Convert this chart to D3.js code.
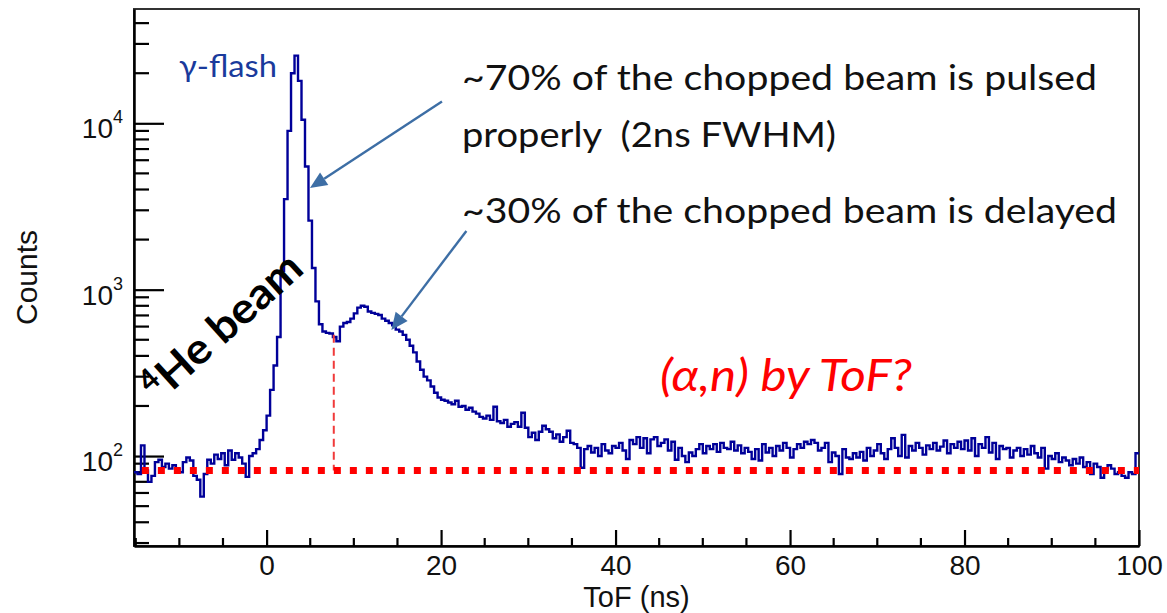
<!DOCTYPE html>
<html>
<head>
<meta charset="utf-8">
<script src="https://cdn.jsdelivr.net/npm/d3@7"></script>
<style>
  html, body { margin: 0; padding: 0; background: #ffffff; }
  svg { display: block; }
</style>
</head>
<body>
<svg id="chart" width="1167" height="613"></svg>
<script>
// ---------------- DATA ----------------
const binStart = -15.2;   // ns, lower edge of first bin
const binWidth = 0.4;     // ns
const counts = [
  80, 78, 116, 82, 70, 76, 92, 95, 86, 90,          // -15.2 .. -11.6
  84, 88, 83, 80, 92, 98, 94, 76, 72, 57,           // -11.2 .. -7.6
  78, 95, 90, 102, 96, 104, 88, 108, 95, 104,       // -7.2 .. -3.6
  98, 90, 75, 100, 104, 110, 125, 143, 175, 250,    // -3.2 .. 0.4
  350, 520, 1300, 3500, 9000, 20000, 25500, 18000, 10500, 5500, // 0.8 .. 4.4
  2600, 1350, 850, 620, 560, 550, 545, 520, 490, 600,           // 4.8 .. 8.4
  630, 640, 670, 720, 780, 800, 790, 740, 725, 715, // 8.8 .. 12.4
  705, 670, 650, 630, 610, 575, 560, 535, 500, 460, // 12.8 .. 16.4
  420, 370, 330, 300, 285, 262, 240, 225, 218, 215, // 16.8 .. 20.4
  210, 205, 215, 198, 200, 190, 195, 185, 180, 172, // 20.8 .. 24.4
  168, 175, 165, 198, 162, 158, 165, 150, 156, 160, // 24.8 .. 28.4
  150, 182, 148, 130, 138, 125, 140, 152, 145, 140, // 28.8 .. 32.4
  128, 135, 122, 130, 142, 120, 118, 112, 85, 110,  // 32.8 .. 36.4
  115, 105, 112, 100, 118, 108, 104, 115, 112, 120, // 36.8 .. 40.4
  108, 96, 125, 118, 130, 112, 128, 104, 126, 130,  // 40.8 .. 44.4
  115, 120, 126, 108, 122, 95, 112, 100, 92, 105,   // 44.8 .. 48.4
  100, 110, 118, 104, 115, 110, 118, 106, 120, 112, // 48.8 .. 52.4
  110, 122, 108, 116, 104, 112, 106, 96, 110, 94,   // 52.8 .. 56.4
  118, 105, 112, 100, 115, 108, 120, 112, 98, 110,  // 56.8 .. 60.4
  118, 112, 122, 118, 125, 120, 108, 112, 120, 92,  // 60.8 .. 64.4
  105, 100, 78, 110, 98, 96, 104, 98, 106, 94,      // 64.8 .. 68.4
  112, 100, 108, 118, 104, 96, 110, 128, 112, 100,  // 68.8 .. 72.4
  134, 98, 115, 108, 120, 112, 102, 116, 110, 120,  // 72.8 .. 76.4
  108, 114, 124, 104, 118, 112, 122, 110, 124, 108, // 76.8 .. 80.4
  128, 100, 118, 112, 130, 105, 120, 96, 115, 110,  // 80.8 .. 84.4
  112, 98, 108, 112, 100, 110, 102, 115, 104, 98,   // 84.8 .. 88.4
  112, 84, 100, 96, 104, 92, 98, 94, 88, 96,        // 88.8 .. 92.4
  90, 98, 86, 92, 78, 90, 86, 74, 82, 88,           // 92.8 .. 96.4
  84, 78, 80, 76, 74, 80, 78, 104                   // 96.8 .. 99.6
];

const xDomain = [-15.2, 100];
const yDomain = [28.8, 48640];
const xMajorTicks = [0, 20, 40, 60, 80, 100];
const xTickLabels = ["0", "20", "40", "60", "80", "100"];
const yMajorTicks = [100, 1000, 10000];
const yTickBase = ["10", "10", "10"];
const yTickExp = ["2", "3", "4"];

const baselineLevel = 82;     // red dotted background level (counts)
const cutTime = 7.7;          // ns, red dashed separator
const cutTop = 535;           // counts, top of red dashed separator

const xTitle = "ToF (ns)";
const yTitle = "Counts";
const flashLabel = "\u03B3-flash";
const noteLines = ["~70% of the chopped beam is pulsed", "properly  (2ns FWHM)", "~30% of the chopped beam is delayed"];
const questionText = "(\u03B1,n) by ToF?";
const beamSup = "4";
const beamText = "He beam";

// arrows: [from, to] in (ns, counts)
const arrowPulsed = [[20.1, 13500], [4.97, 4080]];
const arrowDelayed = [[22.9, 2255], [14.3, 573]];

// ---------------- LAYOUT ----------------
const svg = d3.select("#chart");
const plotL = 134, plotR = 1139, plotT = 9, plotB = 546;

svg.append("rect").attr("width", 1167).attr("height", 613).attr("fill", "#ffffff");

const x = d3.scaleLinear().domain(xDomain).range([plotL, plotR]);
const y = d3.scaleLog().domain(yDomain).range([plotB, plotT]);

svg.append("defs").append("clipPath").attr("id", "plotclip")
  .append("rect").attr("x", plotL).attr("y", plotT).attr("width", plotR - plotL).attr("height", plotB - plotT);

// frame
svg.append("rect")
  .attr("x", plotL).attr("y", plotT)
  .attr("width", plotR - plotL).attr("height", plotB - plotT)
  .attr("fill", "none").attr("stroke", "#333").attr("stroke-width", 2);

const axisFont = "'Liberation Sans', Arial, Helvetica, sans-serif";

// X axis (ticks pointing up into plot)
const xAxis = d3.axisBottom(x)
  .tickValues(xMajorTicks)
  .tickFormat((d, i) => xTickLabels[i])
  .tickSizeInner(-16).tickSizeOuter(0).tickPadding(8);
const gx = svg.append("g").attr("transform", `translate(0,${plotB})`).call(xAxis);
gx.select(".domain").attr("stroke", "#000").attr("stroke-width", 2.5);
gx.selectAll(".tick line").attr("stroke", "#000").attr("stroke-width", 2.2);
gx.selectAll(".tick text").attr("font-family", axisFont).attr("font-size", 28).attr("fill", "#111").attr("dy", "0.76em");

const xMinor = d3.range(-15, 101, 5).filter(v => v > xDomain[0] && v < xDomain[1] && !xMajorTicks.includes(v));
svg.append("g").selectAll("line").data(xMinor).join("line")
  .attr("x1", d => x(d)).attr("x2", d => x(d))
  .attr("y1", plotB).attr("y2", plotB - 8)
  .attr("stroke", "#000").attr("stroke-width", 2.2);

// Y axis (ticks pointing right into plot)
const yAxis = d3.axisLeft(y).tickValues(yMajorTicks).tickFormat(() => "")
  .tickSizeInner(-30).tickSizeOuter(0);
const gy = svg.append("g").attr("transform", `translate(${plotL},0)`).call(yAxis);
gy.select(".domain").attr("stroke", "#000").attr("stroke-width", 2.5);
gy.selectAll(".tick line").attr("stroke", "#000").attr("stroke-width", 2.2);

const yMinor = [];
[10, 100, 1000, 10000].forEach(dec => { for (let k = 2; k <= 9; k++) { const v = dec * k; if (v > yDomain[0] && v < yDomain[1]) yMinor.push(v); } });
svg.append("g").selectAll("line").data(yMinor).join("line")
  .attr("x1", plotL).attr("x2", plotL + 15)
  .attr("y1", d => y(d)).attr("y2", d => y(d))
  .attr("stroke", "#000").attr("stroke-width", 2.2);

// Y tick labels with superscripts
const yl = svg.append("g").selectAll("text").data(yMajorTicks).join("text")
  .attr("x", 123).attr("y", d => y(d) + 15)
  .attr("text-anchor", "end")
  .attr("font-family", axisFont).attr("fill", "#111");
yl.append("tspan").attr("font-size", 28).text((d, i) => yTickBase[i]);
yl.append("tspan").attr("font-size", 18).attr("dy", -15).text((d, i) => yTickExp[i]);

// axis titles
svg.append("text").attr("x", (plotL + plotR) / 2).attr("y", 607)
  .attr("text-anchor", "middle").attr("font-family", axisFont).attr("font-size", 29).attr("fill", "#111")
  .text(xTitle);
svg.append("text").attr("transform", `translate(37,${(plotT + plotB) / 2}) rotate(-90)`)
  .attr("text-anchor", "middle").attr("font-family", axisFont).attr("font-size", 30).attr("fill", "#111")
  .text(yTitle);

// ---------------- HISTOGRAM ----------------
const pts = counts.map((c, i) => [binStart + i * binWidth, c]);
pts.push([binStart + counts.length * binWidth, counts[counts.length - 1]]);
const line = d3.line().x(d => x(d[0])).y(d => y(d[1])).curve(d3.curveStepAfter);
svg.append("path").datum(pts)
  .attr("clip-path", "url(#plotclip)")
  .attr("d", line)
  .attr("fill", "none").attr("stroke", "#000099").attr("stroke-width", 2.4)
  .attr("stroke-linejoin", "miter");

// ---------------- RED GUIDES ----------------
svg.append("line")
  .attr("x1", x(cutTime)).attr("x2", x(cutTime))
  .attr("y1", y(cutTop)).attr("y2", y(baselineLevel))
  .attr("stroke", "#f03a3a").attr("stroke-width", 2).attr("stroke-dasharray", "8,5");
svg.append("line")
  .attr("x1", x(-14.3)).attr("x2", x(100))
  .attr("y1", y(baselineLevel)).attr("y2", y(baselineLevel))
  .attr("stroke", "#ff0000").attr("stroke-width", 7).attr("stroke-dasharray", "7,9");

// ---------------- ARROWS ----------------
const arrowColor = "#3d6ea5";
function drawArrow(a) {
  const [p0, p1] = a;
  const x0 = x(p0[0]), y0 = y(p0[1]), x1 = x(p1[0]), y1 = y(p1[1]);
  const ang = Math.atan2(y1 - y0, x1 - x0);
  const hl = 17, hw = 7.5;
  const bx = x1 - hl * Math.cos(ang), by = y1 - hl * Math.sin(ang);
  svg.append("line").attr("x1", x0).attr("y1", y0).attr("x2", bx).attr("y2", by)
    .attr("stroke", arrowColor).attr("stroke-width", 2.4);
  const px = -Math.sin(ang), py = Math.cos(ang);
  svg.append("path")
    .attr("d", `M${x1},${y1}L${bx + hw * px},${by + hw * py}L${bx - hw * px},${by - hw * py}Z`)
    .attr("fill", arrowColor);
}
drawArrow(arrowPulsed);
drawArrow(arrowDelayed);

// ---------------- ANNOTATIONS ----------------
const noteFont = "Lato, 'Open Sans', sans-serif";
svg.append("text").attr("x", x(-10.05)).attr("y", 77)
  .attr("font-family", noteFont).attr("font-size", 31).attr("fill", "#1a3a9c")
  .attr("textLength", 98).attr("lengthAdjust", "spacingAndGlyphs")
  .text(flashLabel);

const noteY = [90, 147, 223];
const noteW = [635, 374, 655];
noteLines.forEach((t, i) => {
  svg.append("text").attr("x", x(22.4)).attr("y", noteY[i])
    .attr("font-family", noteFont).attr("font-size", 35).attr("fill", "#111")
    .attr("textLength", noteW[i]).attr("lengthAdjust", "spacingAndGlyphs")
    .style("white-space", "pre")
    .text(t);
});

svg.append("text").attr("x", x(45.1)).attr("y", 391)
  .attr("font-family", noteFont).attr("font-size", 44).attr("font-style", "italic").attr("fill", "#ff0000")
  .attr("textLength", 252).attr("lengthAdjust", "spacingAndGlyphs")
  .text(questionText);

const beam = svg.append("g").attr("transform", "translate(163,400) rotate(-42)");
beam.append("text").attr("x", -6).attr("y", -14)
  .attr("font-family", noteFont).attr("font-size", 30).attr("font-weight", 700).attr("fill", "#000")
  .text(beamSup);
beam.append("text").attr("x", 12).attr("y", 0)
  .attr("font-family", noteFont).attr("font-size", 43).attr("font-weight", 700).attr("fill", "#000")
  .attr("textLength", 180).attr("lengthAdjust", "spacingAndGlyphs")
  .text(beamText);
</script>
</body>
</html>
